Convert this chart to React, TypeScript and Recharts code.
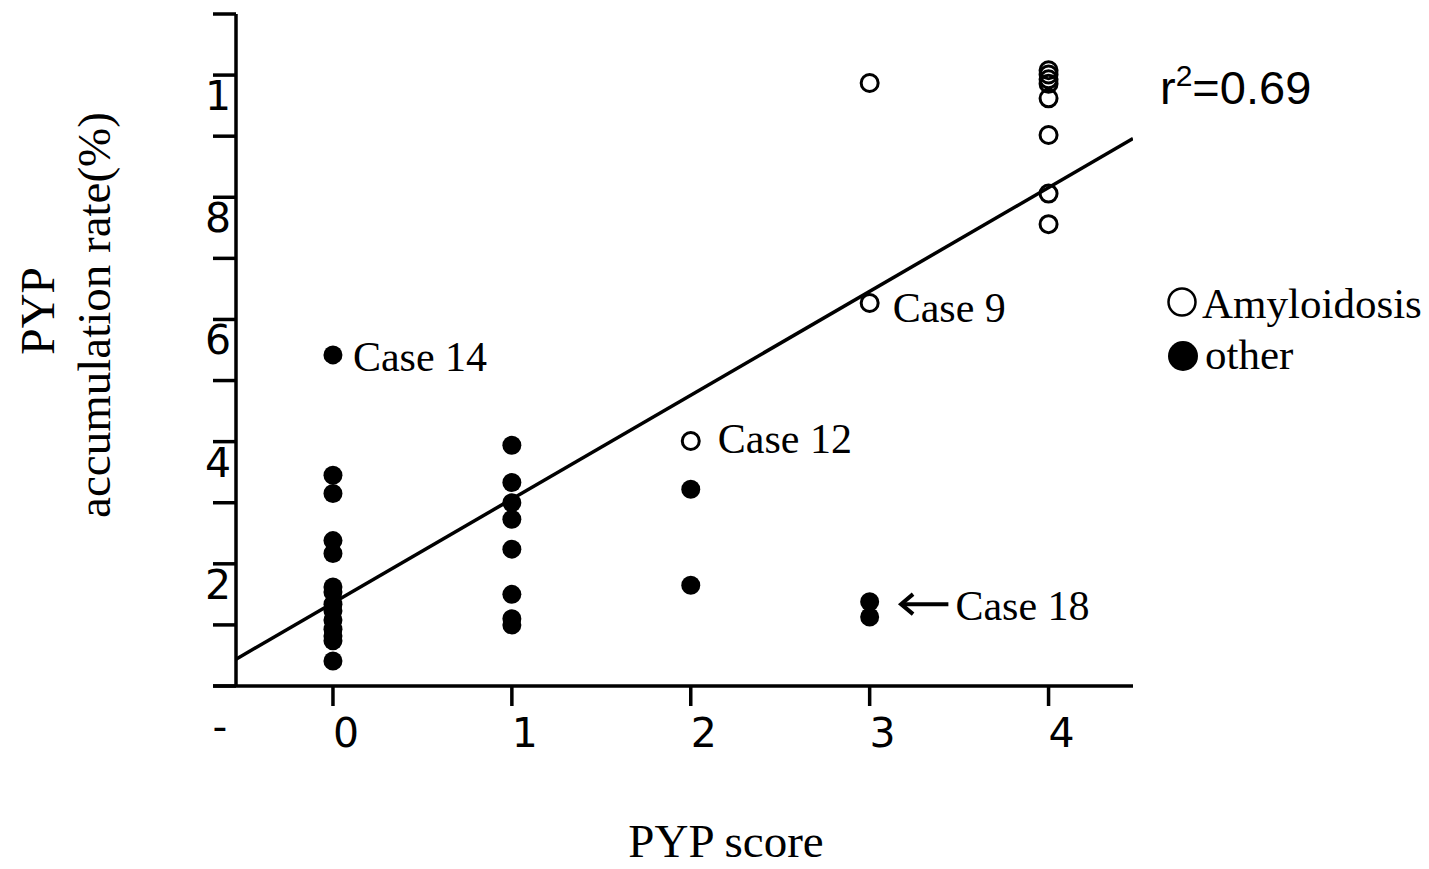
import {
  Label,
  Legend,
  ReferenceDot,
  ReferenceLine,
  Scatter,
  ScatterChart,
  XAxis,
  YAxis,
} from 'recharts';

// PYP score (x) and accumulation rate % (y) for each patient
const amyloidScore = [2, 3, 3, 4, 4, 4, 4, 4, 4, 4, 4];
const amyloidRate = [4.01, 9.87, 6.27, 10.08, 10.01, 9.93, 9.86, 9.62, 9.02, 8.06, 7.56];

const otherScore = [
  0, 0, 0, 0, 0, 0, 0, 0, 0, 0, 0, 0, 0, 0,
  1, 1, 1, 1, 1, 1, 1, 1,
  2, 2,
  3, 3,
];
const otherRate = [
  5.42, 3.45, 3.15, 2.38, 2.17, 1.62, 1.54, 1.34, 1.23, 1.08, 0.93, 0.82, 0.74, 0.41,
  3.94, 3.33, 3.0, 2.73, 2.24, 1.5, 1.1, 1.0,
  3.22, 1.65,
  1.38, 1.13,
];

// regression line
const fitIntercept = 1.36;
const fitSlope = 1.7;
const rSquared = '0.69';

const xDomain = [-0.542, 4.472];
const xAxisStart = -0.67;
const xTicks = [0, 1, 2, 3, 4];
const yTicks = [0, 1, 2, 3, 4, 5, 6, 7, 8, 9, 10, 11];
const yTickLabels: Record<number, string> = { 2: '2', 4: '4', 6: '6', 8: '8', 10: '1' };

const caseNames = ['Case 14', 'Case 12', 'Case 9'];
const caseScore = [0, 2, 3];
const caseRate = [5.42, 4.01, 6.27];
const case18Arrow = { from: 3.44, to: 3.17, rate: 1.34, name: 'Case 18' };

const amyloidData = amyloidScore.map((x, i) => ({ x, y: amyloidRate[i] }));
const otherData = otherScore.map((x, i) => ({ x, y: otherRate[i] }));
const fitData = xDomain.map((x) => ({ x, y: fitIntercept + fitSlope * x }));

const serif = '"Liberation Serif", "Times New Roman", serif';
const sans = '"DejaVu Sans", sans-serif';

// label offsets (px) for the case annotations
const caseLabelOffset = [
  { dx: 20, dy: 16 },
  { dx: 27, dy: 12 },
  { dx: 23, dy: 19 },
];

const YTick = (props: any) => {
  const { x, y, payload } = props;
  const label = yTickLabels[payload.value];
  if (!label) return <g />;
  return (
    <text x={x + 20} y={y + 35} textAnchor="end" fontFamily={sans} fontSize={41} fill="#000">
      {label}
    </text>
  );
};

const XTick = (props: any) => {
  const { x, y, payload } = props;
  return (
    <text x={x + 13} y={y + 39} textAnchor="middle" fontFamily={sans} fontSize={41} fill="#000">
      {payload.value}
    </text>
  );
};

const OpenDot = (props: any) => (
  <circle cx={props.cx} cy={props.cy} r={8.5} fill="none" stroke="#000" strokeWidth={3} />
);
const FilledDot = (props: any) => <circle cx={props.cx} cy={props.cy} r={9.5} fill="#000" />;

const LegendBox = (props: any) => {
  const items = (props.payload || []).filter((p: any) => p.value);
  return (
    <svg width={269} height={400}>
      <text x={0} y={104} fontFamily='"Liberation Sans", Arial, sans-serif' fontSize={47} fill="#000">
        r<tspan dy={-18} fontSize={30}>2</tspan>
        <tspan dy={18}>={rSquared}</tspan>
      </text>
      {items.map((item: any, i: number) => (
        <g key={item.value}>
          {i === 0 ? (
            <circle cx={22} cy={302} r={13.5} fill="none" stroke="#000" strokeWidth={2.5} />
          ) : (
            <circle cx={23} cy={356} r={15} fill="#000" />
          )}
          <text x={i === 0 ? 42 : 45} y={i === 0 ? 318 : 369} fontFamily={serif} fontSize={43} fill="#000">
            {item.value}
          </text>
        </g>
      ))}
    </svg>
  );
};

const ArrowShape = (props: any) => {
  const { x1, y1, x2, y2 } = props;
  return (
    <g>
      <line x1={x1} y1={y1} x2={x2 + 3} y2={y2} stroke="#000" strokeWidth={4} />
      <path
        d={`M${x2 + 13},${y2 - 10} L${x2 + 1},${y2} L${x2 + 13},${y2 + 10}`}
        fill="none"
        stroke="#000"
        strokeWidth={4}
      />
    </g>
  );
};

const Chart = () => (
  <ScatterChart width={1429} height={869} margin={{ top: 14, right: 296, bottom: 0, left: 0 }}>
    <XAxis
      type="number"
      dataKey="x"
      domain={xDomain}
      ticks={xTicks}
      allowDataOverflow
      height={183}
      tickSize={20}
      tickMargin={2}
      axisLine={{ stroke: '#000', strokeWidth: 3.5 }}
      tickLine={{ stroke: '#000', strokeWidth: 3.5 }}
      tick={<XTick />}
    >
      <Label
        content={() => (
          <g>
            <text x={220} y={741} textAnchor="middle" fontFamily={sans} fontSize={41} fill="#000">
              -
            </text>
            <text x={726} y={857} textAnchor="middle" fontFamily={serif} fontSize={47} fill="#000">
              PYP score
            </text>
          </g>
        )}
      />
    </XAxis>
    <YAxis
      type="number"
      dataKey="y"
      domain={[0, 11]}
      ticks={yTicks}
      allowDataOverflow
      width={236}
      tickSize={23}
      tickMargin={2}
      axisLine={{ stroke: '#000', strokeWidth: 3.5 }}
      tickLine={{ stroke: '#000', strokeWidth: 3.5 }}
      tick={<YTick />}
    >
      <Label
        content={() => (
          <g fontFamily={serif} fill="#000" textAnchor="middle">
            <text x={54} y={311} fontSize={48} transform="rotate(-90 54 311)">
              PYP
            </text>
            <text x={110} y={315} fontSize={47} transform="rotate(-90 110 315)">
              accumulation rate(%)
            </text>
          </g>
        )}
      />
    </YAxis>
    <ReferenceLine
      segment={[{ x: xAxisStart, y: 0 }, { x: xDomain[0], y: 0 }]}
      stroke="#000"
      strokeWidth={3.5}
      ifOverflow="visible"
    />
    <Scatter
      name=""
      data={fitData}
      line={{ stroke: '#000', strokeWidth: 3.5 }}
      shape={() => <g />}
      legendType="none"
      isAnimationActive={false}
    />
    <Scatter name="Amyloidosis" data={amyloidData} shape={<OpenDot />} isAnimationActive={false} />
    <Scatter name="other" data={otherData} shape={<FilledDot />} isAnimationActive={false} />
    {caseNames.map((name, i) => (
      <ReferenceDot
        key={name}
        x={caseScore[i]}
        y={caseRate[i]}
        r={0}
        stroke="none"
        label={{
          content: (p: any) => (
            <text
              x={p.viewBox.x + caseLabelOffset[i].dx}
              y={p.viewBox.y + caseLabelOffset[i].dy}
              fontFamily={serif}
              fontSize={42}
              fill="#000"
            >
              {name}
            </text>
          ),
        }}
      />
    ))}
    <ReferenceLine
      segment={[
        { x: case18Arrow.from, y: case18Arrow.rate },
        { x: case18Arrow.to, y: case18Arrow.rate },
      ]}
      shape={<ArrowShape />}
      ifOverflow="visible"
    />
    <ReferenceDot
      x={case18Arrow.from}
      y={case18Arrow.rate}
      r={0}
      stroke="none"
      label={{
        content: (p: any) => (
          <text x={p.viewBox.x + 7} y={p.viewBox.y + 16} fontFamily={serif} fontSize={42} fill="#000">
            {case18Arrow.name}
          </text>
        ),
      }}
    />
    <Legend
      layout="vertical"
      align="center"
      verticalAlign="middle"
      wrapperStyle={{ left: 1160, top: 0, width: 269 }}
      content={<LegendBox />}
    />
  </ScatterChart>
);

export default function App() {
  return (
    <div style={{ position: 'absolute', left: 0, top: 0, background: '#fff' }}>
      <Chart />
    </div>
  );
}
